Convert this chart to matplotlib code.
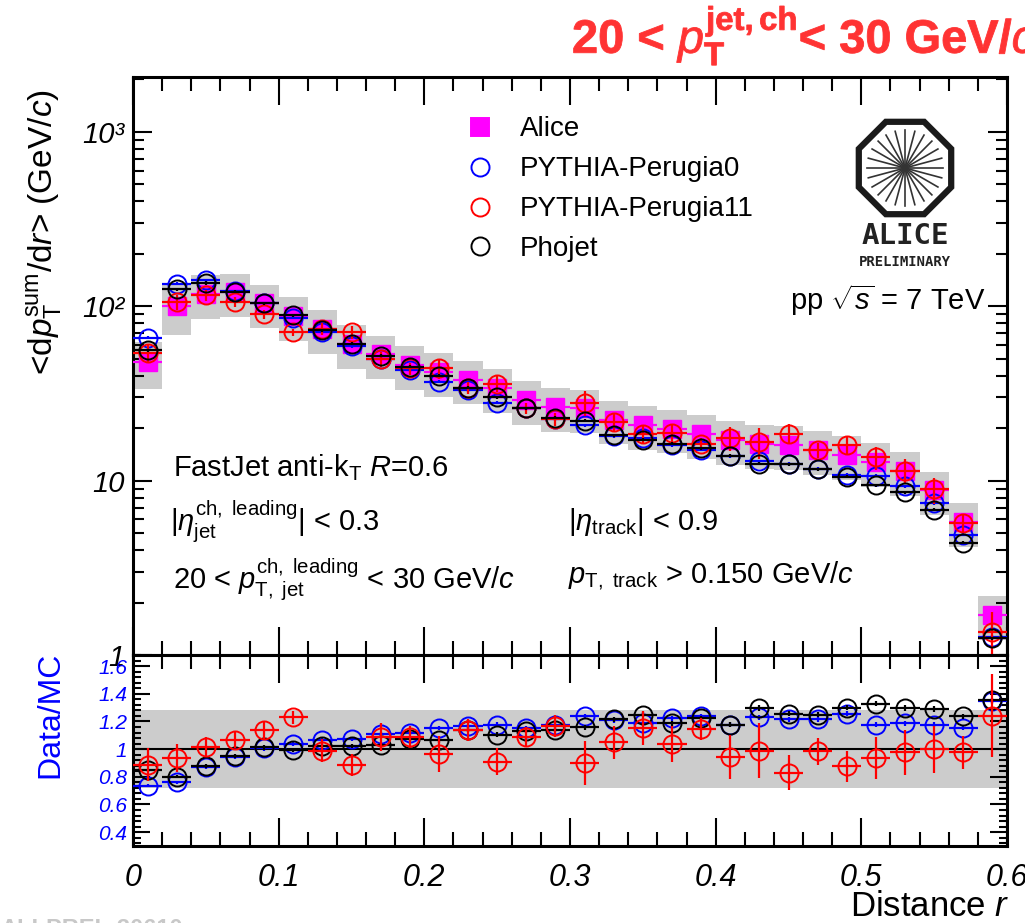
import numpy as np
import matplotlib
matplotlib.use("Agg")
import matplotlib.pyplot as plt
from matplotlib.patches import Rectangle, RegularPolygon, PathPatch
from matplotlib.textpath import TextPath
from matplotlib.font_manager import FontProperties
from matplotlib.transforms import Affine2D, IdentityTransform
from matplotlib.ticker import FixedLocator, MultipleLocator, NullFormatter, LogLocator

plt.rcParams['font.family'] = ['Liberation Sans', 'DejaVu Sans']
plt.rcParams['mathtext.fontset'] = 'custom'
plt.rcParams['mathtext.rm'] = 'Liberation Sans'
plt.rcParams['mathtext.it'] = 'Liberation Sans:italic'
plt.rcParams['mathtext.bf'] = 'Liberation Sans:bold'

# ---------------- data ----------------
r_centers = [0.01, 0.03, 0.05, 0.07, 0.09, 0.11, 0.13, 0.15, 0.17, 0.19,
             0.21, 0.23, 0.25, 0.27, 0.29, 0.31, 0.33, 0.35, 0.37, 0.39,
             0.41, 0.43, 0.45, 0.47, 0.49, 0.51, 0.53, 0.55, 0.57, 0.59]
bin_half_width = 0.01

alice = [48, 101, 118, 120, 104, 88, 74, 61, 53, 46,
         42, 38, 34, 29, 26.5, 26, 22.4, 20.8, 19.9, 18.6,
         17.1, 16.3, 16, 15, 14, 12.8, 11.4, 8.8, 5.8, 1.7]
perugia0 = [66, 135, 141, 122, 104, 86, 71, 59, 50, 43,
            37, 33, 28, 26, 22.5, 20.8, 18, 17.5, 16, 15,
            13.8, 12.9, 12.5, 11.7, 10.8, 10.7, 9.3, 7.4, 4.9, 1.27]
perugia11 = [54, 106, 116, 106, 90, 71, 74, 71, 50, 44,
             44, 34, 36, 26, 22.5, 28, 21.7, 18.6, 18.8, 16.3,
             17.5, 16.7, 18.6, 15, 16, 13.6, 11.4, 8.9, 5.7, 1.36]
phojet = [56, 125, 136, 121, 104, 89, 73, 61, 52, 45,
          40, 34, 30, 26, 23, 22, 18.2, 17.2, 16.3, 15.3,
          13.9, 12.5, 12.4, 11.6, 10.5, 9.4, 8.6, 6.8, 4.4, 1.25]

alice_stat_rel = [0.05, 0.03, 0.02, 0.02, 0.02, 0.02, 0.02, 0.02, 0.02, 0.02,
                  0.02, 0.02, 0.02, 0.02, 0.02, 0.03, 0.03, 0.03, 0.03, 0.03,
                  0.03, 0.03, 0.04, 0.04, 0.04, 0.04, 0.05, 0.05, 0.05, 0.08]
alice_sys_rel = [0.30, 0.32, 0.28, 0.28, 0.28, 0.28, 0.28, 0.28, 0.28, 0.28,
                 0.28, 0.28, 0.28, 0.28, 0.28, 0.28, 0.28, 0.28, 0.28, 0.28,
                 0.28, 0.28, 0.28, 0.28, 0.28, 0.28, 0.28, 0.28, 0.28, 0.28]
mc_stat_rel = [0.02] * 30
red_stat_rel = [0.12, 0.10, 0.07, 0.06, 0.06, 0.05, 0.08, 0.08, 0.10, 0.08,
                0.13, 0.08, 0.10, 0.07, 0.08, 0.16, 0.12, 0.12, 0.13, 0.08,
                0.16, 0.20, 0.13, 0.10, 0.11, 0.15, 0.16, 0.17, 0.12, 0.30]

ratio_perugia0 = [0.735, 0.76, 0.87, 0.94, 1.005, 1.04, 1.067, 1.072, 1.11, 1.12,
                  1.152, 1.169, 1.176, 1.152, 1.176, 1.236, 1.207, 1.188, 1.224, 1.236,
                  1.176, 1.229, 1.217, 1.217, 1.255, 1.176, 1.188, 1.176, 1.152, 1.345]
ratio_perugia11 = [0.887, 0.935, 1.015, 1.067, 1.135, 1.229, 0.99, 0.887, 1.087, 1.087,
                   0.966, 1.14, 0.91, 1.087, 1.169, 0.899, 1.048, 1.152, 1.039, 1.145,
                   0.942, 0.99, 0.831, 0.983, 0.875, 0.935, 0.976, 1.0, 0.976, 1.241]
ratio_phojet = [0.846, 0.80, 0.88, 0.947, 1.012, 0.995, 1.02, 1.02, 1.03, 1.072,
                1.063, 1.14, 1.104, 1.133, 1.14, 1.159, 1.217, 1.248, 1.188, 1.224,
                1.176, 1.296, 1.255, 1.248, 1.30, 1.328, 1.296, 1.289, 1.236, 1.352]
ratio_band = (0.72, 1.28)

labels = ['Alice', 'PYTHIA-Perugia0', 'PYTHIA-Perugia11', 'Phojet']
colors = ['#ff00ff', '#0000ff', '#ff0000', '#000000']
top_yticks = [1, 10, 100, 1000]
top_yticklabels = ['1', '10', '10\u00b2', '10\u00b3']
ratio_yticks = [0.4, 0.6, 0.8, 1.0, 1.2, 1.4, 1.6]
ratio_yticklabels = ['0.4', '0.6', '0.8', '1', '1.2', '1.4', '1.6']
xticks = [0, 0.1, 0.2, 0.3, 0.4, 0.5, 0.6]
xticklabels = ['0', '0.1', '0.2', '0.3', '0.4', '0.5', '0.6']

x = np.array(r_centers)

# ---------------- figure ----------------
W, H = 1025, 923
fig = plt.figure(figsize=(W / 100, H / 100), dpi=100)

def fx(px):
    return px / W

def fy(py):
    return 1 - py / H

axL, axR = 133, 1007
ax = fig.add_axes([fx(axL), fy(655), fx(axR - axL), fy(77) - fy(655)])
axr = fig.add_axes([fx(axL), fy(846), fx(axR - axL), fy(655) - fy(846)], sharex=ax)

# systematic boxes
for xi, yi, s in zip(x, alice, alice_sys_rel):
    ax.add_patch(Rectangle((xi - bin_half_width, yi * (1 - s)), 2 * bin_half_width,
                           yi * (1 + s) - yi * (1 - s), facecolor='#cccccc',
                           edgecolor='none', zorder=1))

def draw(axis, y, yerr, color, marker, filled, z):
    axis.errorbar(x, y, xerr=bin_half_width, yerr=yerr, fmt='none',
                  ecolor=color, elinewidth=1.6, capsize=0, zorder=z)
    if filled:
        axis.plot(x, y, linestyle='none', marker=marker, ms=13, mfc=color,
                  mec=color, zorder=z + 0.5)
    else:
        axis.plot(x, y, linestyle='none', marker=marker, ms=13, mfc='none',
                  mec=color, mew=1.4, zorder=z + 0.5)

a = np.array(alice); p0 = np.array(perugia0); p11 = np.array(perugia11); ph = np.array(phojet)
draw(ax, a, a * np.array(alice_stat_rel), colors[0], 's', True, 3)
draw(ax, p0, p0 * np.array(mc_stat_rel), colors[1], 'o', False, 4)
draw(ax, p11, p11 * np.array(red_stat_rel), colors[2], 'o', False, 5)
draw(ax, ph, ph * np.array(mc_stat_rel), colors[3], 'o', False, 6)

ax.set_yscale('log')
ax.set_ylim(1, 2065)
ax.set_xlim(0, 0.6)

# ratio panel
axr.axhspan(ratio_band[0], ratio_band[1], color='#cccccc', zorder=1, lw=0)
axr.axhline(1.0, color='black', lw=1.5, zorder=2)
rp0 = np.array(ratio_perugia0); rp11 = np.array(ratio_perugia11); rph = np.array(ratio_phojet)
draw(axr, rp0, rp0 * 0.015, colors[1], 'o', False, 4)
draw(axr, rph, rph * 0.015, colors[3], 'o', False, 5)
draw(axr, rp11, np.array(red_stat_rel), colors[2], 'o', False, 6)
axr.set_ylim(0.3, 1.68)

# ticks
for a_ in (ax, axr):
    a_.tick_params(which='both', direction='in', top=True, right=True, width=1.5)
    a_.tick_params(which='major', length=20)
    a_.tick_params(which='minor', length=10)
    for sp in a_.spines.values():
        sp.set_linewidth(2.2)
    a_.xaxis.set_major_locator(MultipleLocator(0.1))
    a_.xaxis.set_minor_locator(MultipleLocator(0.02))

ax.yaxis.set_major_locator(FixedLocator(top_yticks))
ax.yaxis.set_minor_locator(LogLocator(base=10, subs=np.arange(2, 10)))
ax.yaxis.set_minor_formatter(NullFormatter())
ax.set_yticklabels(top_yticklabels, fontsize=21, style='italic')
ax.tick_params(axis='y', which='major', length=14, pad=6)
ax.tick_params(axis='y', which='minor', length=8)
plt.setp(ax.get_xticklabels(), visible=False)

axr.yaxis.set_major_locator(FixedLocator(ratio_yticks))
axr.yaxis.set_minor_locator(MultipleLocator(0.04))
axr.set_yticklabels(ratio_yticklabels, fontsize=15, color='blue', style='italic')
axr.tick_params(axis='y', which='major', length=12, pad=4)
axr.tick_params(axis='y', which='minor', length=6)
axr.set_xticks(xticks)
axr.set_xticklabels(xticklabels, fontsize=22, style='italic')
axr.tick_params(axis='x', which='major', pad=12)

# axis labels
fig.text(fx(45), fy(232), r'<d$p_{\mathrm{T}}^{\mathrm{sum}}$/d$r$> (GeV/$c$)',
         rotation=90, ha='center', va='center', fontsize=24)
fig.text(fx(50), fy(715), 'Data/MC', rotation=90, ha='center', va='center',
         fontsize=23, color='blue')
fig.text(fx(1010), fy(907), r'Distance $r$', ha='right', va='center', fontsize=25)

# title (clipped at the right edge)
tp = TextPath((0, 0), r'20 < $p_{\mathbf{T}}^{\mathbf{jet,ch}}$< 30 GeV/$c$', size=47,
              prop=FontProperties(family='Liberation Sans', weight='bold'))
fig.add_artist(PathPatch(tp, transform=Affine2D().translate(572, H - 53)
                         + IdentityTransform(), facecolor='#ff3333', edgecolor='#ff3333',
                         lw=0.6))

# legend
leg_handles = []
for lab, c, mk, fill in zip(labels, colors, ['s', 'o', 'o', 'o'], [True, False, False, False]):
    h, = ax.plot([], [], linestyle='none', marker=mk, ms=13,
                 mfc=c if fill else 'none', mec=c, mew=1.4, label=lab)
    leg_handles.append(h)
ax.legend(handles=leg_handles, loc='upper left', bbox_to_anchor=(0.352, 0.975),
          frameon=False, fontsize=20, handletextpad=0.95, labelspacing=0.5,
          handlelength=1.0)

# annotations
fs = 21
fig.text(fx(173), fy(468), r'FastJet anti-k$_{\mathrm{T}}$ $R$=0.6', fontsize=fs, va='center')
fig.text(fx(170), fy(522), r'|$\eta_{\mathrm{jet}}^{\mathrm{ch,\ leading}}$| < 0.3', fontsize=fs, va='center')
fig.text(fx(173), fy(580), r'20 < $p_{\mathrm{T,\ jet}}^{\mathrm{ch,\ leading}}$ < 30 GeV/$c$', fontsize=fs, va='center')
fig.text(fx(568), fy(522), r'|$\eta_{\mathrm{track}}$| < 0.9', fontsize=fs, va='center')
fig.text(fx(568), fy(575), r'$p_{\mathrm{T,\ track}}$ > 0.150 GeV/$c$', fontsize=fs, va='center')
fig.text(fx(985), fy(300), r'pp $\sqrt{s}$ = 7 TeV', fontsize=fs, va='center', ha='right')

# ALICE logo
lax = fig.add_axes([fx(845), fy(275), fx(120), fy(110) - fy(275)])
lax.set_xlim(845, 965)
lax.set_ylim(275, 110)
lax.axis('off')
cx, cy, R = 905, 168, 50
lax.add_patch(RegularPolygon((cx, cy), 8, radius=R, orientation=np.pi / 8,
                             fill=False, lw=4.5, ec='#1a1a1a'))
for ang in np.linspace(0, np.pi, 13)[:-1]:
    dx, dy = np.cos(ang), np.sin(ang)
    lax.plot([cx - 38 * dx, cx + 38 * dx], [cy - 38 * dy, cy + 38 * dy],
             color='#333333', lw=1.2)
lax.text(cx, 236, 'ALICE', ha='center', va='center', fontsize=21,
         fontweight='bold', family='DejaVu Sans Mono', color='#222222')
lax.text(cx, 262, 'PRELIMINARY', ha='center', va='center', fontsize=10,
         fontweight='bold', family='DejaVu Sans Mono', color='#222222')

# faded id at bottom
fig.text(fx(0), fy(936), 'ALI-PREL-30610', fontsize=17, color='#c8c8c8',
         fontweight='bold', va='baseline', ha='left')

fig.savefig('out.png', dpi=100)
